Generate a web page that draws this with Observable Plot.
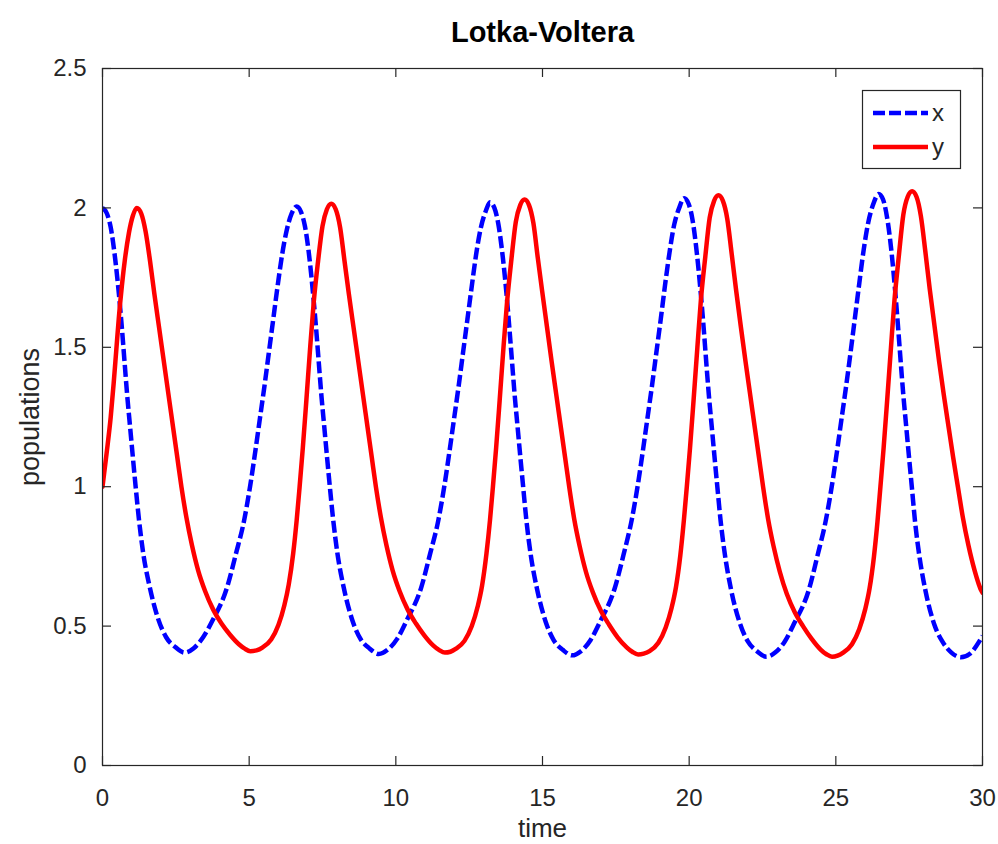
<!DOCTYPE html>
<html>
<head>
<meta charset="utf-8">
<script src="https://cdn.jsdelivr.net/npm/d3@7"></script>
<script src="https://cdn.jsdelivr.net/npm/@observablehq/plot@0.6"></script>
<style>
  body { margin: 0; background: #fff; }
</style>
</head>
<body>
<div id="chart"></div>
<script>
// Prey population x(t): sample times and values
const xTime = [
  0, 0.15, 0.28, 0.44, 0.56, 0.66, 0.75, 0.84, 0.94, 1.04, 1.13, 1.24, 1.39, 1.6, 1.9, 2.17, 2.48, 2.8, 3.1, 3.43, 3.75, 4.25, 4.55, 4.83, 5.03, 5.2, 5.36, 5.52, 5.67, 5.82, 5.97, 6.12, 6.28, 6.45,
  6.62, 6.77, 6.9, 7.06, 7.18, 7.28, 7.37, 7.46, 7.56, 7.66, 7.75, 7.86, 8.01, 8.22, 8.52, 8.79, 9.1, 9.42, 9.72, 10.05, 10.37, 10.87, 11.17, 11.45, 11.65, 11.82, 11.98, 12.14, 12.29, 12.44, 12.59, 12.74, 12.9, 13.07,
  13.21, 13.36, 13.49, 13.65, 13.77, 13.87, 13.96, 14.05, 14.15, 14.25, 14.34, 14.45, 14.6, 14.81, 15.11, 15.38, 15.69, 16.01, 16.31, 16.64, 16.96, 17.46, 17.76, 18.04, 18.24, 18.41, 18.57, 18.73, 18.88, 19.03, 19.18, 19.33, 19.49, 19.66,
  19.83, 19.98, 20.11, 20.27, 20.39, 20.49, 20.58, 20.67, 20.77, 20.87, 20.96, 21.07, 21.22, 21.43, 21.73, 22.0, 22.31, 22.63, 22.93, 23.26, 23.58, 24.08, 24.38, 24.66, 24.86, 25.03, 25.19, 25.35, 25.5, 25.65, 25.8, 25.95, 26.11, 26.28,
  26.46, 26.61, 26.74, 26.9, 27.02, 27.12, 27.21, 27.3, 27.4, 27.5, 27.59, 27.7, 27.85, 28.06, 28.36, 28.63, 28.94, 29.26, 29.56, 29.89, 30.0
];
const xPop = [
  2.0, 1.98, 1.93, 1.81, 1.69, 1.57, 1.45, 1.33, 1.215, 1.1, 1.0, 0.885, 0.76, 0.645, 0.525, 0.46, 0.425, 0.405, 0.42, 0.46, 0.52, 0.64, 0.76, 0.88, 1.0, 1.12, 1.24, 1.36, 1.48, 1.6, 1.72, 1.83, 1.92, 1.98,
  2.005, 1.985, 1.935, 1.815, 1.69, 1.57, 1.45, 1.33, 1.215, 1.1, 1.0, 0.885, 0.76, 0.64, 0.52, 0.455, 0.42, 0.40, 0.415, 0.455, 0.52, 0.64, 0.76, 0.88, 1.0, 1.12, 1.24, 1.36, 1.48, 1.6, 1.72, 1.835, 1.93, 1.99,
  2.02, 2.0, 1.945, 1.82, 1.695, 1.57, 1.45, 1.33, 1.215, 1.1, 1.0, 0.88, 0.755, 0.635, 0.515, 0.45, 0.415, 0.395, 0.41, 0.45, 0.515, 0.635, 0.755, 0.88, 1.0, 1.12, 1.24, 1.36, 1.48, 1.6, 1.725, 1.84, 1.94, 2.0,
  2.035, 2.015, 1.96, 1.83, 1.70, 1.575, 1.45, 1.33, 1.215, 1.1, 1.0, 0.88, 0.755, 0.63, 0.51, 0.445, 0.41, 0.39, 0.405, 0.445, 0.51, 0.63, 0.755, 0.88, 1.0, 1.12, 1.24, 1.36, 1.48, 1.605, 1.73, 1.85, 1.95, 2.015,
  2.05, 2.03, 1.97, 1.84, 1.705, 1.575, 1.45, 1.33, 1.215, 1.1, 1.0, 0.875, 0.75, 0.625, 0.505, 0.445, 0.405, 0.388, 0.40, 0.445, 0.465
];

// Predator population y(t): sample times and values
const yTime = [
  0, 0.14, 0.28, 0.38, 0.47, 0.56, 0.66, 0.77, 0.9, 1.03,
  1.17, 1.32, 1.47, 1.62, 1.77, 1.93, 2.09, 2.25, 2.41, 2.55, 2.69, 2.86, 3.05, 3.26, 3.5, 3.77, 4.05, 4.34, 4.65, 4.85, 5.04,
  5.25, 5.45, 5.75, 6.0, 6.2, 6.35, 6.5, 6.62, 6.72, 6.83, 6.95, 7.08, 7.2, 7.35, 7.5, 7.65,
  7.80, 7.95, 8.1, 8.25, 8.4, 8.56, 8.72, 8.88, 9.04, 9.18, 9.32, 9.49, 9.68, 9.89, 10.13, 10.4, 10.68, 10.97, 11.28, 11.48, 11.67,
  11.86, 12.04, 12.34, 12.59, 12.79, 12.94, 13.09, 13.21, 13.31, 13.42, 13.54, 13.67, 13.79, 13.94, 14.09, 14.24,
  14.39, 14.54, 14.69, 14.84, 14.99, 15.15, 15.31, 15.47, 15.63, 15.77, 15.91, 16.08, 16.27, 16.48, 16.72, 16.99, 17.27, 17.56, 17.87, 18.07, 18.26,
  18.45, 18.65, 18.95, 19.2, 19.4, 19.55, 19.7, 19.82, 19.92, 20.03, 20.15, 20.28, 20.4, 20.55, 20.7, 20.85,
  21.0, 21.15, 21.3, 21.45, 21.6, 21.76, 21.92, 22.08, 22.24, 22.38, 22.52, 22.69, 22.88, 23.09, 23.33, 23.6, 23.88, 24.17, 24.48, 24.68, 24.87,
  25.06, 25.25, 25.55, 25.8, 26.0, 26.15, 26.3, 26.42, 26.52, 26.63, 26.75, 26.88, 27.0, 27.15, 27.3, 27.45,
  27.6, 27.75, 27.9, 28.05, 28.2, 28.36, 28.52, 28.68, 28.85, 29.0, 29.16, 29.33, 29.52, 29.73, 29.97, 30.0
];
const yPop = [
  1.0, 1.12, 1.25, 1.37, 1.49, 1.61, 1.72, 1.82, 1.91, 1.97,
  2.0, 1.98, 1.915, 1.81, 1.69, 1.57, 1.45, 1.33, 1.21, 1.105, 1.0, 0.89, 0.79, 0.70, 0.625, 0.56, 0.51, 0.47, 0.435, 0.419, 0.41,
  0.413, 0.423, 0.452, 0.505, 0.575, 0.65, 0.76, 0.88, 1.0, 1.14, 1.31, 1.50, 1.66, 1.81, 1.935, 1.995,
  2.015, 1.995, 1.93, 1.81, 1.69, 1.57, 1.45, 1.33, 1.21, 1.105, 1.0, 0.89, 0.79, 0.70, 0.625, 0.56, 0.51, 0.467, 0.43, 0.414, 0.405,
  0.408, 0.418, 0.447, 0.5, 0.57, 0.645, 0.76, 0.88, 1.0, 1.14, 1.31, 1.50, 1.66, 1.815, 1.95, 2.01,
  2.03, 2.01, 1.945, 1.82, 1.70, 1.575, 1.45, 1.33, 1.21, 1.105, 1.0, 0.885, 0.785, 0.695, 0.62, 0.555, 0.505, 0.46, 0.424, 0.407, 0.398,
  0.401, 0.41, 0.44, 0.495, 0.565, 0.64, 0.755, 0.88, 1.0, 1.14, 1.31, 1.50, 1.67, 1.825, 1.965, 2.025,
  2.045, 2.025, 1.96, 1.835, 1.705, 1.575, 1.45, 1.33, 1.21, 1.105, 1.0, 0.885, 0.785, 0.695, 0.615, 0.55, 0.50, 0.455, 0.416, 0.399, 0.39,
  0.394, 0.405, 0.435, 0.49, 0.56, 0.635, 0.75, 0.875, 1.0, 1.14, 1.31, 1.50, 1.67, 1.83, 1.975, 2.04,
  2.06, 2.04, 1.97, 1.845, 1.71, 1.58, 1.45, 1.33, 1.21, 1.105, 1.0, 0.89, 0.79, 0.70, 0.625, 0.62
];

// Axis ticks and labels
const xTicks = [0, 5, 10, 15, 20, 25, 30];
const yTicks = [0, 0.5, 1, 1.5, 2, 2.5];
const seriesNames = ["x", "y"];
const seriesColors = ["#0000ff", "#ff0000"];
const titleText = "Lotka-Voltera";
const xLabel = "time";
const yLabel = "populations";

const ink = "#262626";
const font = "'Liberation Sans', Arial, Helvetica, sans-serif";
const W = 998, H = 844;
const mL = 102, mR = 16, mT = 68, mB = 79;
const frameW = W - mL - mR, frameH = H - mT - mB;
const tickLen = 9;
const dash = "12,4";
const lineWidth = 4.5;

const xRows = xTime.map((t, i) => ({t, v: xPop[i]}));
const yRows = yTime.map((t, i) => ({t, v: yPop[i]}));

const plot = Plot.plot({
  width: W,
  height: H,
  marginLeft: mL,
  marginRight: mR,
  marginTop: mT,
  marginBottom: mB,
  style: {fontFamily: font, color: ink, background: "#fff", overflow: "visible"},
  x: {domain: [0, 30]},
  y: {domain: [0, 2.5]},
  marks: [
    Plot.line(xRows, {
      x: "t", y: "v", stroke: seriesColors[0], strokeWidth: lineWidth,
      strokeDasharray: dash, strokeLinecap: "butt", curve: "monotone-x", clip: "frame"
    }),
    Plot.line(yRows, {
      x: "t", y: "v", stroke: seriesColors[1], strokeWidth: lineWidth,
      curve: "monotone-x", clip: "frame"
    }),
    Plot.frame({stroke: ink, strokeWidth: 1.2}),
    // inward ticks on all four sides of the box
    Plot.tickX(xTicks, {x: d => d, stroke: ink, strokeWidth: 1.2, insetTop: frameH - tickLen}),
    Plot.tickX(xTicks, {x: d => d, stroke: ink, strokeWidth: 1.2, insetBottom: frameH - tickLen}),
    Plot.tickY(yTicks, {y: d => d, stroke: ink, strokeWidth: 1.2, insetRight: frameW - tickLen}),
    Plot.tickY(yTicks, {y: d => d, stroke: ink, strokeWidth: 1.2, insetLeft: frameW - tickLen}),
    Plot.axisX({ticks: xTicks, tickSize: 0, tickPadding: 23, fontSize: 24, label: null, tickFormat: d => String(d)}),
    Plot.axisY({ticks: yTicks, tickSize: 0, tickPadding: 16, fontSize: 24, label: null, tickFormat: d => String(d)}),
    Plot.text([titleText], {
      text: d => d, frameAnchor: "top", lineAnchor: "middle", textAnchor: "middle",
      dy: -36, fontSize: 29, fontWeight: "bold", fill: "#000"
    }),
    Plot.text([xLabel], {
      text: d => d, frameAnchor: "bottom", lineAnchor: "middle", textAnchor: "middle",
      dy: 63, fontSize: 26, fill: ink
    }),
    Plot.text([yLabel], {
      text: d => d, frameAnchor: "left", lineAnchor: "middle", textAnchor: "middle",
      dx: -72, rotate: -90, fontSize: 27, fill: ink
    })
  ]
});

// Legend box in the upper-right corner of the axes
const legend = {left: 862.5, top: 90.5, width: 98, height: 78, lineX1: 873, lineX2: 928, textX: 938, rowY: [113, 147]};
const svg = d3.select(plot);
const g = svg.append("g").attr("font-family", font);
g.append("rect")
  .attr("x", legend.left).attr("y", legend.top)
  .attr("width", legend.width).attr("height", legend.height)
  .attr("fill", "#fff").attr("stroke", ink).attr("stroke-width", 1.2);
seriesNames.forEach((name, i) => {
  const yy = legend.rowY[i];
  g.append("line")
    .attr("x1", legend.lineX1).attr("x2", legend.lineX2)
    .attr("y1", yy).attr("y2", yy)
    .attr("stroke", seriesColors[i]).attr("stroke-width", lineWidth)
    .attr("stroke-dasharray", i === 0 ? dash : null);
  g.append("text")
    .attr("x", legend.textX).attr("y", yy + 8)
    .attr("font-size", 24).attr("fill", ink)
    .text(name);
});

document.getElementById("chart").appendChild(plot);
</script>
</body>
</html>
